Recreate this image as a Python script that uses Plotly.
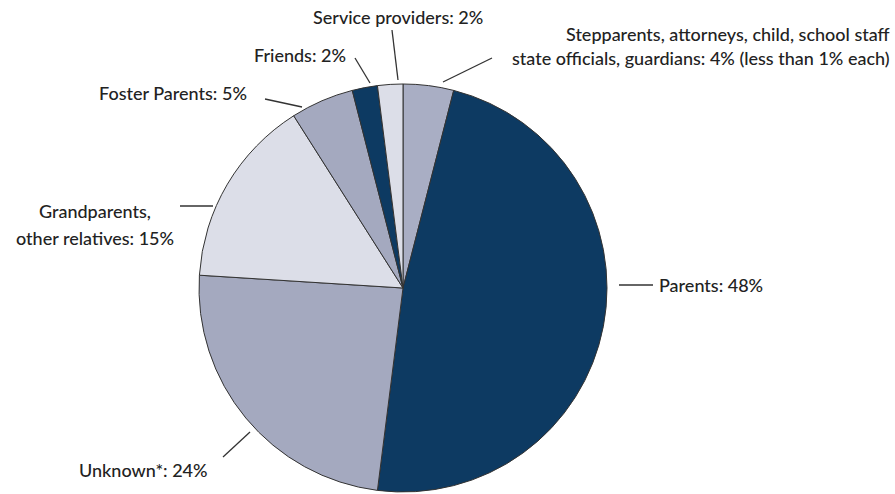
import plotly.graph_objects as go

# ---- data ----
categories = [
    "Stepparents, attorneys, child, school staff, state officials, guardians",
    "Parents",
    "Unknown*",
    "Grandparents, other relatives",
    "Foster Parents",
    "Friends",
    "Service providers",
]
values = [4, 48, 24, 15, 5, 2, 2]
label_lines = [
    ["Stepparents, attorneys, child, school staff",
     "state officials, guardians: 4% (less than 1% each)"],
    ["Parents: 48%"],
    ["Unknown*: 24%"],
    ["Grandparents,", "other relatives: 15%"],
    ["Foster Parents: 5%"],
    ["Friends: 2%"],
    ["Service providers: 2%"],
]

# ---- styles / layout ----
W, H = 895, 494
slice_colors = ["#a9aec4", "#0d3a62", "#a4a9bf", "#dcdee8", "#a4a9bf", "#0d3a62", "#dcdee8"]
text_color = "#222222"
FONT = "Lato"
FS = 18

cx, cy, r = 403, 288, 204  # pie geometry in pixels

def px(x):
    return x / W

def py(y):
    return 1 - y / H

# label placement (pixels): per-line (x, y, xanchor), and leader line endpoints
label_pos = [
    [(892, 34, "right"), (892, 58, "right")],
    [(657, 285, "left")],
    [(77, 470, "left")],
    [(95, 211, "center"), (95, 238, "center")],
    [(97, 93, "left")],
    [(252, 55, "left")],
    [(398, 17, "center")],
]
leaders = [
    ((443, 82), (492, 58)),
    ((619, 285), (653, 285)),
    ((223, 457), (250, 432)),
    ((180, 206), (213, 206)),
    ((265, 99), (302, 107)),
    ((355, 58), (370, 83)),
    ((392, 30), (398, 80)),
]

fig = go.Figure(
    go.Pie(
        labels=categories,
        values=values,
        sort=False,
        direction="clockwise",
        rotation=0,
        textinfo="none",
        hoverinfo="label+percent",
        marker=dict(colors=slice_colors, line=dict(color="#333333", width=1)),
        domain=dict(x=[px(cx - r), px(cx + r)], y=[py(cy + r), py(cy - r)]),
        showlegend=False,
    )
)

annotations = []
for lines, poss in zip(label_lines, label_pos):
    for txt, (x, y, xa) in zip(lines, poss):
        annotations.append(dict(
            x=px(x), y=py(y), xref="paper", yref="paper",
            text=txt, showarrow=False, xanchor=xa, yanchor="middle",
            font=dict(family=FONT, size=FS, color=text_color, weight=500),
        ))

shapes = []
for (x0, y0), (x1, y1) in leaders:
    shapes.append(dict(
        type="line", xref="paper", yref="paper",
        x0=px(x0), y0=py(y0), x1=px(x1), y1=py(y1),
        line=dict(color="#333333", width=1.3),
    ))

fig.update_layout(
    width=W, height=H,
    margin=dict(l=0, r=0, t=0, b=0),
    paper_bgcolor="white",
    plot_bgcolor="white",
    annotations=annotations,
    shapes=shapes,
)

fig.write_html(
    "out.html",
    config={"displayModeBar": False},
    post_script="document.body.style.margin='0';document.body.style.overflow='hidden';",
)
